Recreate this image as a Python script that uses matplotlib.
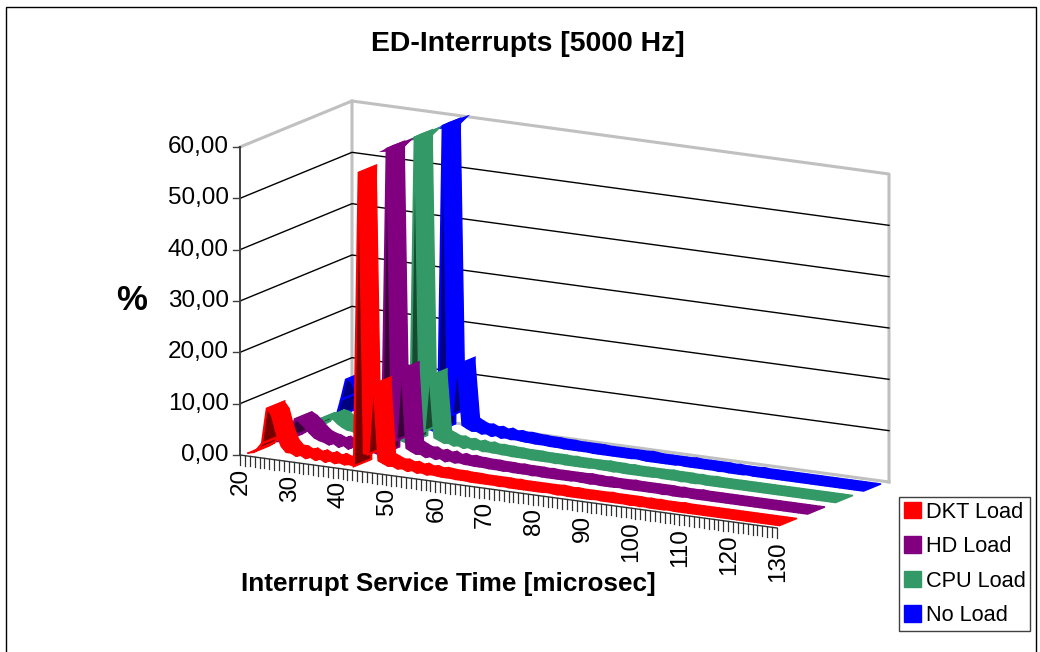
import matplotlib
matplotlib.use("Agg")
import matplotlib.pyplot as plt
from matplotlib.patches import Polygon, Patch, Rectangle

plt.rcParams['font.family'] = ['Liberation Sans', 'DejaVu Sans']

# --- data --- #
times = list(range(20, 131))
tick_times = list(range(20, 131, 10))
percent_ticks = [0, 10, 20, 30, 40, 50, 60]
percent_labels = ["0,00", "10,00", "20,00", "30,00", "40,00", "50,00", "60,00"]
series_names = ["DKT Load", "HD Load", "CPU Load", "No Load"]
series_colors = ["#ff0000", "#800080", "#339966", "#0000ff"]
series_dark = ["#7a0000", "#3a003a", "#174a30", "#000080"]

dkt_load = [0.0, 0.3, 1.0, 2.3, 9.2, 8.0, 4.5, 2.2, 1.2, 1.2, 0.7, 1.0, 0.5, 0.9, 0.4, 0.8, 0.3, 0.7, 0.3, 0.6,
            0.3, 0.5, 0.3, 57.6, 3.0, 3.0, 16.7, 2.0, 1.6, 1.2, 1.3, 0.9, 1.1, 0.7, 1.0, 0.6, 0.8, 0.5, 0.7, 0.6,
            0.5, 0.5, 0.5, 0.4, 0.4, 0.4, 0.3, 0.3, 0.3, 0.3, 0.3, 0.3, 0.2, 0.3, 0.2, 0.2, 0.2, 0.2, 0.2, 0.2,
            0.2, 0.2, 0.3, 0.2, 0.1, 0.2, 0.1, 0.1, 0.1, 0.1, 0.1, 0.1, 0.2, 0.1, 0.1, 0.1, 0.1, 0.1, 0.1, 0.0,
            0.1, 0.0, 0.1, 0.0, 0.0, 0.0, 0.0, 0.1, 0.0, 0.0, 0.0, 0.0, 0.0, 0.0, 0.0, 0.0, 0.0, 0.0, 0.0, 0.0,
            0.0, 0.0, 0.0, 0.0, 0.0, 0.0, 0.0, 0.0, 0.0, 0.0, 0.0]
hd_load = [0.0, 0.2, 0.5, 1.2, 4.9, 4.4, 3.6, 2.6, 1.8, 1.4, 1.2, 0.8, 1.2, 0.6, 1.1, 0.5, 1.0, 0.4, 0.8, 0.4,
           0.6, 0.3, 0.5, 60.0, 3.5, 3.5, 17.4, 2.2, 1.7, 1.3, 1.4, 0.9, 1.2, 0.8, 1.1, 0.6, 0.9, 0.6, 0.8, 0.6,
           0.6, 0.5, 0.5, 0.5, 0.4, 0.4, 0.4, 0.3, 0.4, 0.3, 0.3, 0.3, 0.3, 0.2, 0.3, 0.2, 0.2, 0.2, 0.2, 0.2,
           0.2, 0.2, 0.3, 0.2, 0.2, 0.1, 0.2, 0.1, 0.1, 0.1, 0.1, 0.2, 0.1, 0.1, 0.1, 0.1, 0.1, 0.1, 0.1, 0.1,
           0.0, 0.1, 0.0, 0.0, 0.0, 0.1, 0.0, 0.0, 0.0, 0.0, 0.0, 0.0, 0.0, 0.0, 0.0, 0.0, 0.0, 0.0, 0.0, 0.0,
           0.0, 0.0, 0.0, 0.0, 0.0, 0.0, 0.0, 0.0, 0.0, 0.0, 0.0]
cpu_load = [0.0, 0.1, 0.8, 2.4, 2.5, 3.2, 3.0, 2.2, 1.6, 1.2, 1.1, 0.7, 1.1, 0.6, 0.9, 0.5, 0.8, 0.5, 0.7, 0.4,
            0.6, 0.3, 0.5, 60.0, 3.0, 3.0, 13.8, 2.0, 1.6, 1.2, 1.3, 0.9, 1.1, 0.7, 1.0, 0.7, 0.9, 0.6, 0.7, 0.6,
            0.6, 0.5, 0.5, 0.4, 0.4, 0.4, 0.4, 0.3, 0.3, 0.3, 0.3, 0.3, 0.2, 0.3, 0.2, 0.2, 0.2, 0.2, 0.2, 0.2,
            0.3, 0.2, 0.2, 0.2, 0.1, 0.2, 0.1, 0.1, 0.1, 0.1, 0.1, 0.1, 0.1, 0.2, 0.1, 0.1, 0.1, 0.1, 0.0, 0.1,
            0.0, 0.0, 0.1, 0.0, 0.0, 0.0, 0.0, 0.0, 0.0, 0.0, 0.0, 0.0, 0.0, 0.0, 0.0, 0.0, 0.0, 0.0, 0.0, 0.0,
            0.0, 0.0, 0.0, 0.0, 0.0, 0.0, 0.0, 0.0, 0.0, 0.0, 0.0]
no_load = [0.0, 0.5, 4.0, 8.0, 7.8, 6.0, 4.0, 2.6, 1.8, 1.4, 1.2, 0.8, 1.1, 0.6, 0.9, 0.5, 0.8, 0.5, 0.7, 0.4,
           0.6, 0.3, 0.5, 60.0, 4.0, 4.0, 13.8, 2.2, 1.7, 1.3, 1.4, 1.0, 1.2, 0.8, 1.1, 0.7, 0.9, 0.7, 0.8, 0.7,
           0.6, 0.6, 0.5, 0.5, 0.5, 0.4, 0.4, 0.4, 0.3, 0.3, 0.3, 0.3, 0.3, 0.3, 0.2, 0.2, 0.2, 0.2, 0.2, 0.2,
           0.2, 0.2, 0.2, 0.3, 0.2, 0.1, 0.1, 0.1, 0.1, 0.1, 0.1, 0.1, 0.2, 0.1, 0.1, 0.1, 0.1, 0.1, 0.1, 0.1,
           0.0, 0.1, 0.0, 0.0, 0.0, 0.0, 0.1, 0.0, 0.0, 0.0, 0.0, 0.0, 0.0, 0.0, 0.0, 0.0, 0.0, 0.0, 0.0, 0.0,
           0.0, 0.0, 0.0, 0.0, 0.0, 0.0, 0.0, 0.0, 0.0, 0.0, 0.0]
all_series = [dkt_load, hd_load, cpu_load, no_load]

# oblique projection of the chart box, in image pixels
ORIGIN_X, ORIGIN_Y = 240, 455
WIDTH_X, WIDTH_Y = 537, 73
DEPTH_X, DEPTH_Y = 112, -46
HEIGHT = 308
STRIP_FRONT = 0.045
STRIP_BACK = 0.2


def project(time, depth, value):
    # time is the position on the axis from 20 to 130, depth 0 to 1, value in %
    frac = (time - 20) / 110
    px = ORIGIN_X + frac * WIDTH_X + depth * DEPTH_X
    py = ORIGIN_Y + frac * WIDTH_Y + depth * DEPTH_Y - value / 60 * HEIGHT
    return px, py


def category(time):
    # the categories sit half a tick after the tick marks
    return 20 + (time - 20 + 0.5) * 110 / 111


def signed_area(pts):
    total = 0
    for i in range(len(pts)):
        x0, y0 = pts[i]
        x1, y1 = pts[(i + 1) % len(pts)]
        total += x0 * y1 - x1 * y0
    return total


fig = plt.figure(figsize=(10.4, 6.52), dpi=100)
ax = fig.add_axes([0, 0, 1, 1])
ax.set_xlim(0, 1040)
ax.set_ylim(652, 0)
ax.axis("off")

# chart border
ax.add_patch(Rectangle((5.5, 6.5), 1030, 660, fill=False, edgecolor="black", lw=1))

# walls
wall = "#c0c0c0"
ax.plot(*zip(project(20, 0, 60), project(20, 1, 60), project(130, 1, 60), project(130, 1, 0)), color=wall, lw=2.2)
ax.plot(*zip(project(20, 1, 60), project(20, 1, 0), project(130, 1, 0)), color=wall, lw=2.2)

# gridlines
for v in percent_ticks[1:-1]:
    ax.plot(*zip(project(20, 0, v), project(20, 1, v), project(130, 1, v)), color="black", lw=1)

# value axis
ax.plot(*zip(project(20, 0, 0), project(20, 0, 60)), color="#404040", lw=1.4)
for v, label in zip(percent_ticks, percent_labels):
    px, py = project(20, 0, v)
    ax.plot([px - 7, px], [py, py], color="#404040", lw=1)
    ax.text(px - 11, py, label, ha="right", va="center", fontsize=17.5)

# time axis
ax.plot(*zip(project(20, 0, 0), project(130, 0, 0)), color="#303030", lw=1)
for t in times:
    px, py = project(t, 0, 0)
    ax.plot([px, px], [py, py + 10], color="#303030", lw=0.9)
for t in tick_times:
    px, py = project(t, 0, 0)
    ax.text(px + 1, py + 13, str(t), rotation=90, ha="center", va="top", fontsize=17.5)

# ribbons, the furthest series first
for i in range(3, -1, -1):
    values = all_series[i]
    d0 = i / 4 + STRIP_FRONT
    d1 = i / 4 + STRIP_BACK
    color = series_colors[i]
    for k in range(len(times) - 1):
        t0 = category(times[k])
        t1 = category(times[k + 1])
        v0 = values[k]
        v1 = values[k + 1]
        pts = [project(t0, d0, v0), project(t1, d0, v1), project(t1, d1, v1), project(t0, d1, v0)]
        # rising pieces show their underside
        under = signed_area(pts) > 0 and v1 > v0 + 0.5
        ax.add_patch(Polygon(pts, closed=True, facecolor=series_dark[i] if under else color,
                             edgecolor=color, lw=1.6 if under else 1.0, joinstyle="miter", zorder=3))
    # peak cut off by the top of the value axis
    for k, v in enumerate(values):
        if v >= 60:
            t = category(times[k])
            left = project(t, d0 - 0.07, v)
            right = project(t, d1 + 0.09, v)
            mid_low = project(t + 1, (d0 + d1) / 2, v - 1)
            mid_high = project(t - 0.5, (d0 + d1) / 2, v)
            ax.add_patch(Polygon([left, mid_low, right, mid_high], closed=True, facecolor=color,
                                 edgecolor="none", zorder=3))

# titles
ax.text(528, 44, "ED-Interrupts [5000 Hz]", ha="center", va="center", fontsize=20.4, fontweight="bold")
ax.text(132, 300, "%", ha="center", va="center", fontsize=25, fontweight="bold")
ax.text(448, 584, "Interrupt Service Time [microsec]", ha="center", va="center", fontsize=18.8, fontweight="bold")

# legend
handles = [Patch(facecolor=c, edgecolor=c) for c in series_colors]
legend = ax.legend(handles, series_names, loc="lower left", bbox_to_anchor=(899 / 1040, 1 - 631 / 652),
                   borderaxespad=0, fontsize=15.7, handlelength=0.8, handleheight=0.8, handletextpad=0.2,
                   labelspacing=0.62, fancybox=False, edgecolor="#404040", framealpha=1, borderpad=0.22)
legend.get_frame().set_linewidth(1)

plt.savefig("out.png", dpi=100)
